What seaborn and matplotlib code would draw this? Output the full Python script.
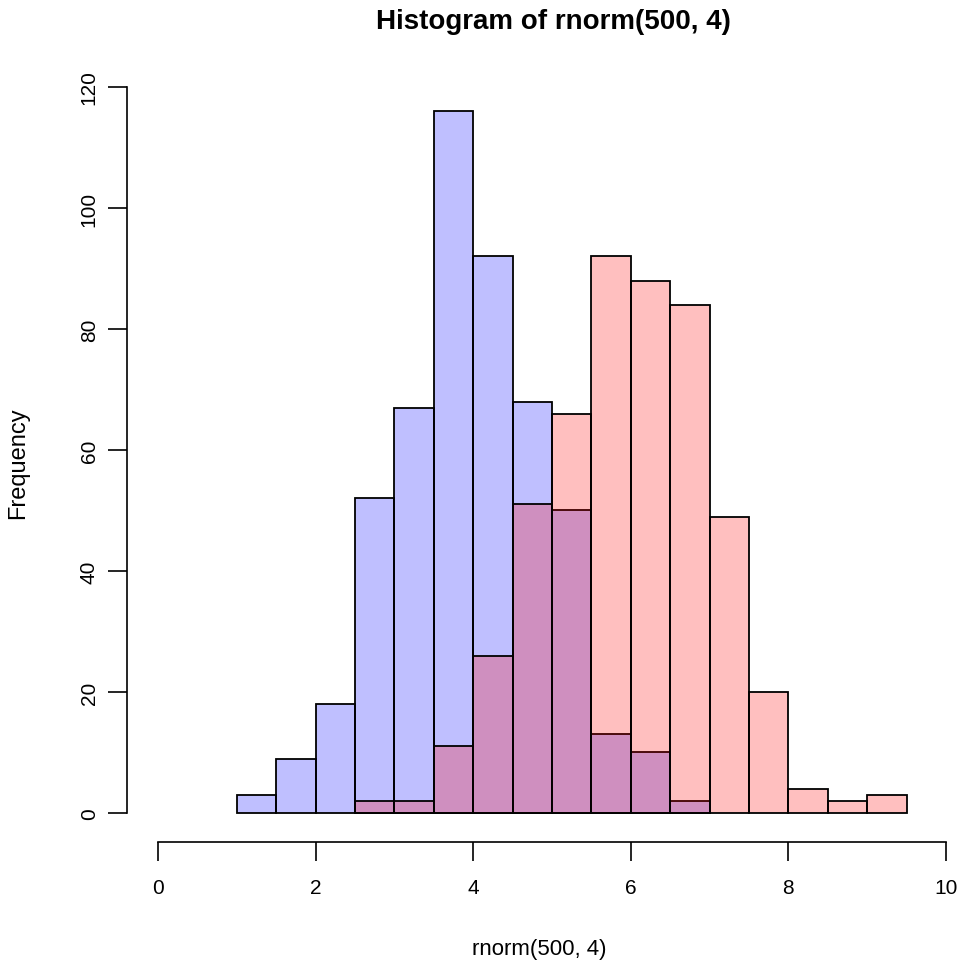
import numpy as np
import pandas as pd
import matplotlib
matplotlib.use('Agg')
import matplotlib.pyplot as plt
import seaborn as sns

# bin edges (width 0.5) and counts
blue_edges = [1.0, 1.5, 2.0, 2.5, 3.0, 3.5, 4.0, 4.5, 5.0, 5.5, 6.0, 6.5, 7.0]
blue_counts = [3, 9, 18, 52, 67, 116, 92, 68, 50, 13, 10, 2]

red_edges = [2.5, 3.0, 3.5, 4.0, 4.5, 5.0, 5.5, 6.0, 6.5, 7.0, 7.5, 8.0, 8.5, 9.0, 9.5]
red_counts = [2, 2, 11, 26, 51, 66, 92, 88, 84, 49, 20, 4, 2, 3]

x_ticks = [0, 2, 4, 6, 8, 10]
y_ticks = [0, 20, 40, 60, 80, 100, 120]

sns.set_style('white')
plt.rcParams['font.family'] = ['Liberation Sans', 'DejaVu Sans']
plt.rcParams['text.color'] = 'black'
plt.rcParams['axes.labelcolor'] = 'black'
plt.rcParams['xtick.color'] = 'black'
plt.rcParams['ytick.color'] = 'black'

fig = plt.figure(figsize=(9.64, 9.70), dpi=100)
ax = fig.add_axes([126.5 / 964, 1 - 843 / 970, 851 / 964, 784 / 970])


def hist_layer(edges, counts, rgba):
    mids = [(a + b) / 2 for a, b in zip(edges[:-1], edges[1:])]
    df = pd.DataFrame({'x': mids, 'n': counts})
    n_before = len(ax.patches)
    sns.histplot(data=df, x='x', weights='n', bins=edges, ax=ax,
                 stat='count', element='bars', fill=True)
    for p in ax.patches[n_before:]:
        p.set_facecolor(rgba)
        p.set_edgecolor('black')
        p.set_alpha(None)
        p.set_linewidth(1.3)


hist_layer(blue_edges, blue_counts, (0, 0, 1, 0.25))
hist_layer(red_edges, red_counts, (1, 0, 0, 0.25))

ax.set_xlim(-0.4, 10.4)
ax.set_ylim(-4.8, 124.8)
ax.set_xticks(x_ticks)
ax.set_yticks(y_ticks)
ax.set_xticklabels([str(t) for t in x_ticks], fontsize=15)
ax.set_yticklabels([str(t) for t in y_ticks], fontsize=15, rotation=90, va='center')

for side in ['top', 'right']:
    ax.spines[side].set_visible(False)
ax.spines['bottom'].set_bounds(0, 10)
ax.spines['left'].set_bounds(0, 120)
for side in ['bottom', 'left']:
    ax.spines[side].set_color('black')
    ax.spines[side].set_linewidth(1.2)
ax.tick_params(axis='both', direction='out', length=14, width=1.2, color='black',
               bottom=True, left=True)
ax.tick_params(axis='x', pad=12)
ax.tick_params(axis='y', pad=6)

ax.set_xlabel('rnorm(500, 4)', fontsize=16)
ax.set_ylabel('Frequency', fontsize=17)
ax.xaxis.set_label_coords(0.5, 0, transform=fig.transFigure)
ax.xaxis.label.set_position((539 / 964, 20 / 970))
ax.xaxis.label.set_verticalalignment('center')
ax.yaxis.set_label_coords(18 / 964, 1 - 463 / 970, transform=fig.transFigure)
ax.yaxis.label.set_verticalalignment('center')
fig.text(553 / 964, 1 - 22 / 970, 'Histogram of rnorm(500, 4)', ha='center', va='center',
         fontsize=20, fontweight='bold')

fig.savefig('out.png', dpi=100)
